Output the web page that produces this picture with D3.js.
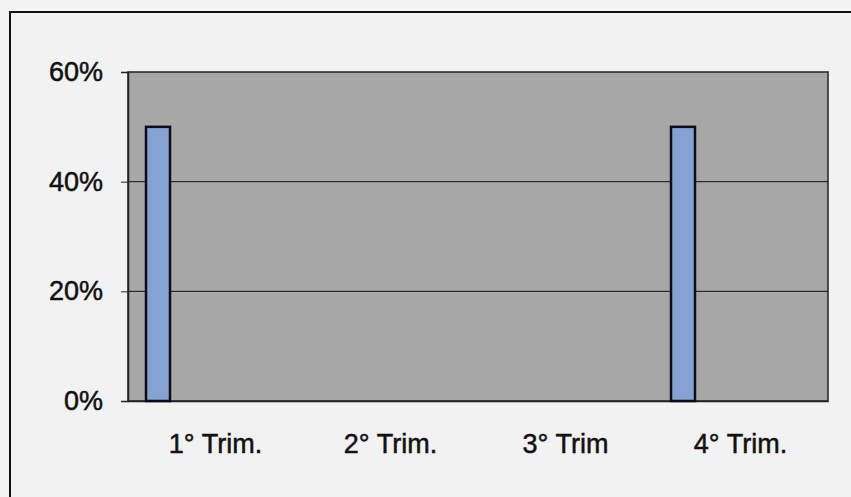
<!DOCTYPE html>
<html>
<head>
<meta charset="utf-8">
<script src="https://cdn.jsdelivr.net/npm/d3@7"></script>
<style>
  html, body { margin: 0; padding: 0; background: #f3f4f3; }
  svg { display: block; }
</style>
</head>
<body>
<svg id="chart" width="851" height="497"></svg>
<script>
// Quarterly share values
const categories = ["1° Trim.", "2° Trim.", "3° Trim", "4° Trim."];
const values = [0.5, 0, 0, 0.5];
const yTicks = [0, 0.2, 0.4, 0.6];

const svg = d3.select("#chart");
const W = 851, H = 497;
const plot = { left: 128, top: 72, right: 828, bottom: 401 };
const font = "Liberation Sans, Arial, sans-serif";

// Outer chart frame (top and left edges visible)
svg.append("rect").attr("x", 0).attr("y", 0).attr("width", W).attr("height", H).attr("fill", "#f3f4f3");
svg.append("rect").attr("x", 10).attr("y", 12).attr("width", W + 20).attr("height", H + 20)
  .attr("fill", "#f1f2f1").attr("stroke", "#111").attr("stroke-width", 2);

const x = d3.scaleBand().domain(categories).range([plot.left, plot.right]);
const y = d3.scaleLinear().domain([0, 0.6]).range([plot.bottom, plot.top]);

// Plot area
svg.append("rect")
  .attr("x", plot.left).attr("y", plot.top)
  .attr("width", plot.right - plot.left).attr("height", plot.bottom - plot.top)
  .attr("fill", "#a7a7a7").attr("stroke", "#222").attr("stroke-width", 1.5);

// Gridlines
svg.append("g").selectAll("line")
  .data(yTicks.filter(t => t > 0 && t < 0.6))
  .join("line")
  .attr("x1", plot.left).attr("x2", plot.right)
  .attr("y1", d => y(d)).attr("y2", d => y(d))
  .attr("stroke", "#111").attr("stroke-width", 1);

// Y axis
const yAxis = d3.axisLeft(y).tickValues(yTicks).tickFormat(d3.format(".0%")).tickSize(7).tickPadding(18);
const gy = svg.append("g").attr("transform", `translate(${plot.left},0)`).call(yAxis);
gy.select(".domain").attr("stroke", "#222").attr("stroke-width", 1.5);
gy.selectAll(".tick line").attr("stroke", "#222");
gy.selectAll(".tick text")
  .attr("font-family", font).attr("font-size", 27)
  .attr("fill", "#111").attr("stroke", "#111").attr("stroke-width", 0.5);

// X axis labels
const xAxis = d3.axisBottom(x).tickSize(0).tickPadding(33);
const gx = svg.append("g").attr("transform", `translate(0,${plot.bottom})`).call(xAxis);
gx.select(".domain").attr("stroke", "#222").attr("stroke-width", 1.5);
gx.selectAll(".tick text")
  .attr("font-family", font).attr("font-size", 27)
  .attr("fill", "#111").attr("stroke", "#111").attr("stroke-width", 0.5);

// Bars (first series slot within each category)
const barW = 24, barOffset = 18;
svg.append("g").selectAll("rect")
  .data(categories.map((c, i) => ({ c, v: values[i] })).filter(d => d.v > 0))
  .join("rect")
  .attr("x", d => x(d.c) + barOffset)
  .attr("y", d => y(d.v))
  .attr("width", barW)
  .attr("height", d => y(0) - y(d.v))
  .attr("fill", "#86a2d2")
  .attr("stroke", "#0d0d1a")
  .attr("stroke-width", 2.5);
</script>
</body>
</html>
